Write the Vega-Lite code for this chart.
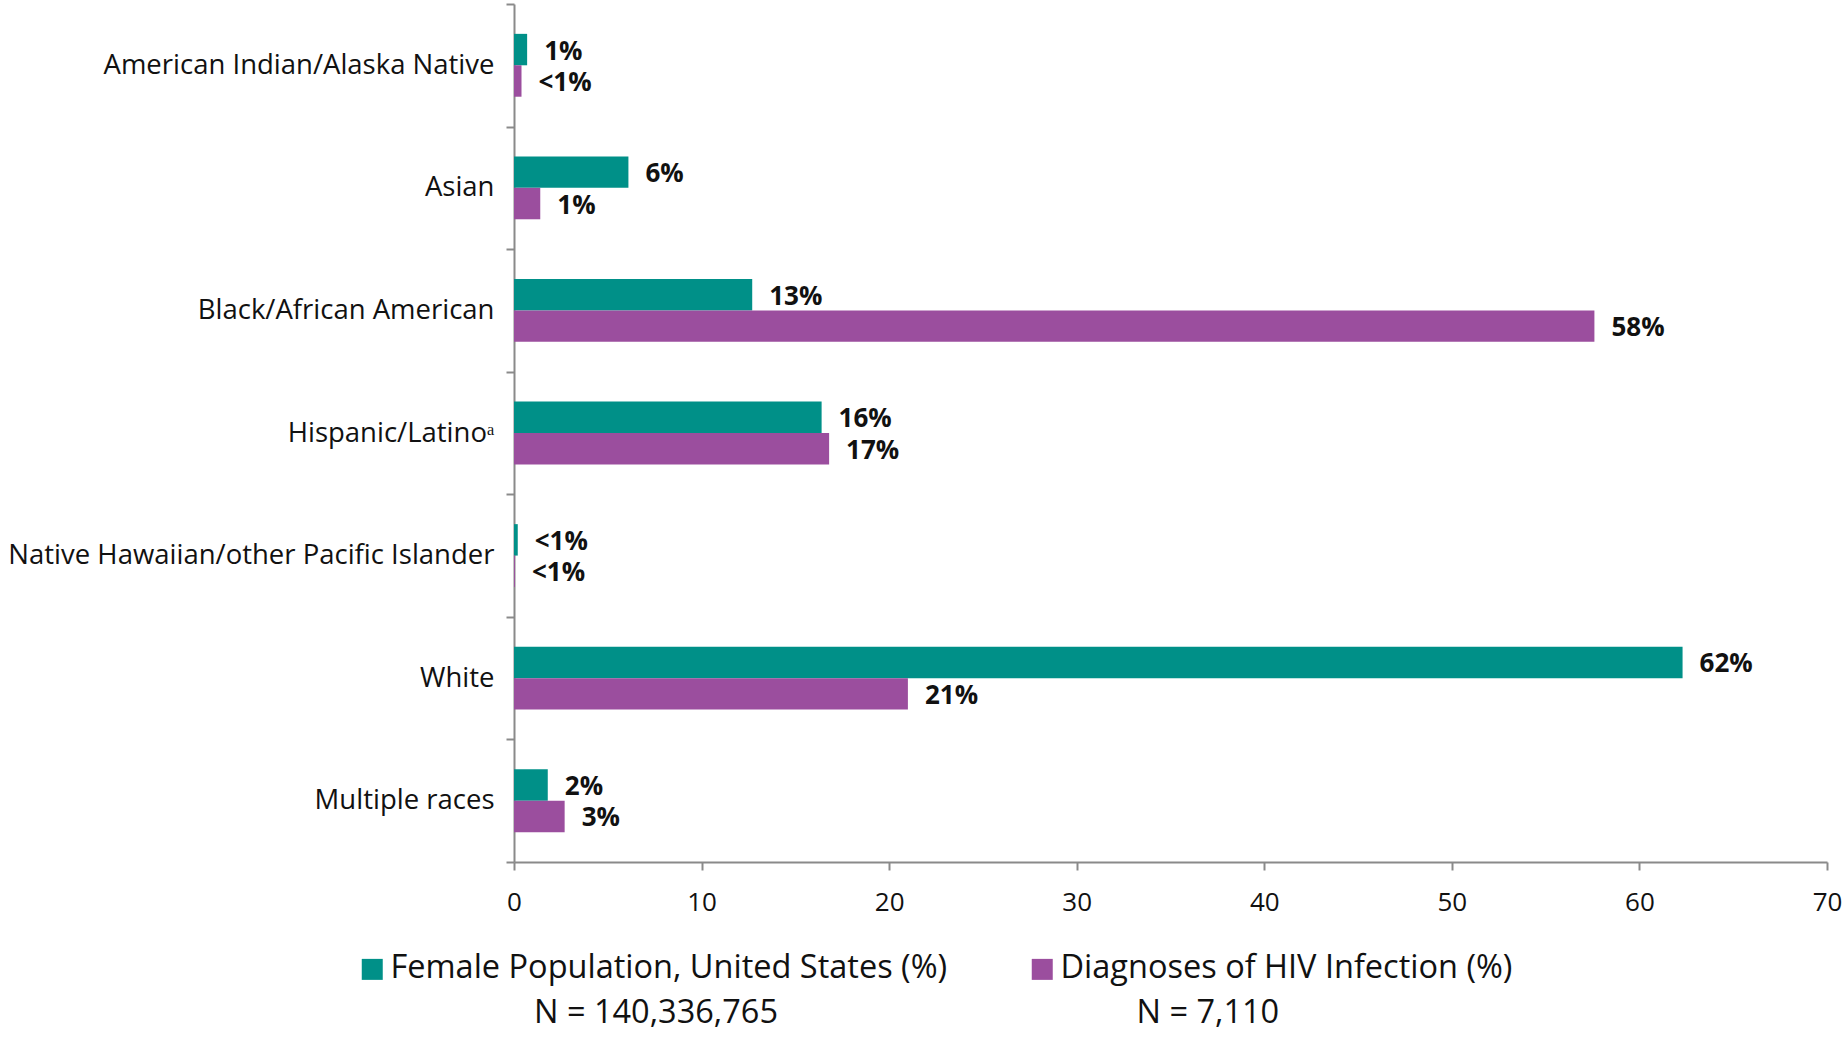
{
  "$schema": "https://vega.github.io/schema/vega-lite/v6.json",
  "width": 1313,
  "height": 858,
  "autosize": {"type": "none"},
  "padding": {"left": 514, "top": 4, "right": 18, "bottom": 176},
  "background": "white",
  "config": {
    "font": "Open Sans",
    "view": {"stroke": null},
    "legend": {"labelLimit": 2000}
  },
  "data": {
    "values": [
      {"race": "American Indian/Alaska Native", "series": "Female Population, United States (%)", "value": 0.7, "label": "1%"},
      {"race": "American Indian/Alaska Native", "series": "Diagnoses of HIV Infection (%)", "value": 0.4, "label": "<1%"},
      {"race": "Asian", "series": "Female Population, United States (%)", "value": 6.1, "label": "6%"},
      {"race": "Asian", "series": "Diagnoses of HIV Infection (%)", "value": 1.4, "label": "1%"},
      {"race": "Black/African American", "series": "Female Population, United States (%)", "value": 12.7, "label": "13%"},
      {"race": "Black/African American", "series": "Diagnoses of HIV Infection (%)", "value": 57.6, "label": "58%"},
      {"race": "Hispanic/Latinoᵃ", "series": "Female Population, United States (%)", "value": 16.4, "label": "16%"},
      {"race": "Hispanic/Latinoᵃ", "series": "Diagnoses of HIV Infection (%)", "value": 16.8, "label": "17%"},
      {"race": "Native Hawaiian/other Pacific Islander", "series": "Female Population, United States (%)", "value": 0.2, "label": "<1%"},
      {"race": "Native Hawaiian/other Pacific Islander", "series": "Diagnoses of HIV Infection (%)", "value": 0.05, "label": "<1%"},
      {"race": "White", "series": "Female Population, United States (%)", "value": 62.3, "label": "62%"},
      {"race": "White", "series": "Diagnoses of HIV Infection (%)", "value": 21.0, "label": "21%"},
      {"race": "Multiple races", "series": "Female Population, United States (%)", "value": 1.8, "label": "2%"},
      {"race": "Multiple races", "series": "Diagnoses of HIV Infection (%)", "value": 2.7, "label": "3%"}
    ]
  },
  "encoding": {
    "y": {
      "field": "race",
      "type": "nominal",
      "sort": ["American Indian/Alaska Native", "Asian", "Black/African American", "Hispanic/Latinoᵃ", "Native Hawaiian/other Pacific Islander", "White", "Multiple races"],
      "scale": {"paddingInner": 0, "paddingOuter": 0},
      "axis": {
        "title": null,
        "tickBand": "extent",
        "tickSize": 8,
        "tickWidth": 2,
        "tickColor": "#8a8a8a",
        "domainColor": "#8a8a8a",
        "domainWidth": 2,
        "labelFontSize": 27.5,
        "labelColor": "#111111",
        "labelPadding": 12,
        "labelLimit": 600
      }
    },
    "yOffset": {
      "field": "series",
      "type": "nominal",
      "sort": ["Female Population, United States (%)", "Diagnoses of HIV Infection (%)"],
      "scale": {"paddingInner": 0, "paddingOuter": 0.95}
    },
    "x": {
      "field": "value",
      "type": "quantitative",
      "scale": {"domain": [0, 70], "nice": false},
      "axis": {
        "title": null,
        "values": [0, 10, 20, 30, 40, 50, 60, 70],
        "grid": false,
        "tickSize": 8,
        "tickWidth": 2,
        "tickColor": "#8a8a8a",
        "domainColor": "#8a8a8a",
        "domainWidth": 2,
        "labelFontSize": 26,
        "labelColor": "#111111",
        "labelPadding": 19,
        "labelFlush": false
      }
    }
  },
  "layer": [
    {
      "mark": {"type": "bar"},
      "encoding": {
        "color": {
          "field": "series",
          "type": "nominal",
          "sort": ["Female Population, United States (%)", "Diagnoses of HIV Infection (%)"],
          "scale": {"range": ["#009088", "#9B4E9E"]},
          "legend": {
            "title": null,
            "orient": "none",
            "legendX": -158,
            "legendY": 949,
            "direction": "horizontal",
            "columns": 2,
            "columnPadding": 78,
            "symbolType": "square",
            "symbolSize": 441,
            "symbolStrokeWidth": 0,
            "labelFontSize": 32.5,
            "labelColor": "#111111",
            "labelOffset": 2,
            "labelBaseline": "top",
            "labelExpr": "datum.label == 'Female Population, United States (%)' ? ['Female Population, United States (%)', '\u200b\u00a0\u00a0\u00a0\u00a0\u00a0\u00a0\u00a0\u00a0\u00a0\u00a0\u00a0\u00a0\u00a0\u00a0\u00a0\u00a0\u00a0N = 140,336,765'] : ['Diagnoses of HIV Infection (%)', '\u200b\u00a0\u00a0\u00a0\u00a0\u00a0\u00a0\u00a0\u00a0\u00a0N = 7,110']",
            "encode": {"labels": {"update": {"lineHeight": {"value": 45}, "dy": {"value": -17}}}}
          }
        }
      }
    },
    {
      "mark": {"type": "text", "align": "left", "baseline": "middle", "dx": 17, "dy": 2, "fontWeight": "bold", "fontSize": 26, "color": "#111111"},
      "encoding": {"text": {"field": "label", "type": "nominal"}}
    }
  ]
}
